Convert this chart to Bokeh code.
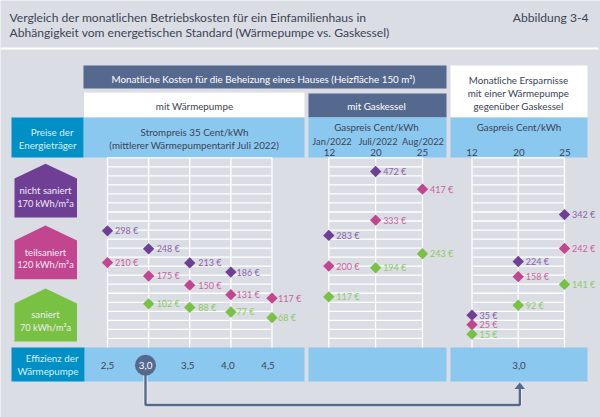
from bokeh.plotting import figure
from bokeh.models import Range1d
from bokeh.core.properties import value
from bokeh.embed import file_html
from bokeh.resources import INLINE

# ---- data ----
cop = [2.5, 3.0, 3.5, 4.0, 4.5]
efficiency_labels = ["2,5", "3,0", "3,5", "4,0", "4,5"]
gas_prices = ["12", "20", "25"]
gas_dates = ["Jan/2022", "Juli/2022", "Aug/2022"]

# labelled euro values and the height (on the euro scale) at which each mark is drawn
wp_cop_purple = [2.5, 3.0, 3.5, 4.0]
wp_val_purple = [298, 248, 213, 186]
wp_lvl_purple = [304, 253, 213, 187]
wp_cop_pink = [2.5, 3.0, 3.5, 4.0, 4.5]
wp_val_pink = [210, 175, 150, 131, 117]
wp_lvl_pink = [214, 176, 150, 123, 113]
wp_cop_green = [3.0, 3.5, 4.0, 4.5]
wp_val_green = [102, 88, 77, 68]
wp_lvl_green = [97, 87, 74, 58]

gas_col_purple = [0, 1]
gas_val_purple = [283, 472]
gas_lvl_purple = [291, 472]
gas_col_pink = [0, 1, 2]
gas_val_pink = [200, 333, 417]
gas_lvl_pink = [204, 334, 422]
gas_col_green = [0, 1, 2]
gas_val_green = [117, 194, 243]
gas_lvl_green = [117, 199, 239]

sav_col = [0, 1, 2]
sav_val_purple = [35, 224, 342]
sav_lvl_purple = [65, 217, 350]
sav_val_pink = [25, 158, 242]
sav_lvl_pink = [38, 174, 254]
sav_val_green = [15, 92, 141]
sav_lvl_green = [11, 93, 152]

# ---- styles ----
BG = "#dadde4"
NAVY = "#55698f"
LIGHT = "#8bc8f0"
TEAL = "#0090c5"
PURPLE = "#6f3f96"
PINK = "#c2458f"
GREEN = "#78c142"
INK = "#3c4454"
FONT = "Lato"

W, H = 600, 417
p = figure(width=W, height=H, x_range=Range1d(0, W), y_range=Range1d(H, 0),
           output_backend="svg", toolbar_location=None, min_border=0,
           background_fill_color=BG, border_fill_color=BG, outline_line_color=None)
p.axis.visible = False
p.grid.visible = False

# data scales laid over the layout frame
PX_PER_EUR = 0.353
ZERO_Y = 337.6
p.extra_y_ranges = {"eur": Range1d((ZERO_Y - H) / PX_PER_EUR, ZERO_Y / PX_PER_EUR)}


def lin_range(x0, step):
    return Range1d((0 - x0) / step, (W - x0) / step)


COP_STEP = 82.25
p.extra_x_ranges = {
    "cop": Range1d(2.5 - 107 / COP_STEP, 2.5 + (W - 107) / COP_STEP),
    "gas": lin_range(328.3, 46.85),
    "sav": lin_range(471.5, 46.25),
}


def box(x0, x1, y0, y1, color):
    p.quad(left=x0, right=x1, top=y0, bottom=y1, fill_color=color, line_color=None)


def txt(x, y, s, size=9.8, color=INK, align="center"):
    p.text([x], [y], text=[s], text_font=value(FONT), text_font_size=f"{size}px",
           text_color=color, text_align=align, text_baseline="middle")


# separator
box(0, 598, 47, 49, "#ffffff")
# header boxes
box(83, 446, 65, 88, NAVY)
box(83.5, 304, 92, 117, "#ffffff")
box(308, 446, 93, 117, NAVY)
box(450, 587, 65, 117, "#ffffff")
for a, b in [(83, 304), (308, 446), (450, 587)]:
    box(a, b, 117, 157, LIGHT)
    box(a + (1 if a == 83 else 0), b, 347, 381, LIGHT)
box(11, 83, 117, 157, TEAL)
box(11, 84, 347, 381, TEAL)

# grid
grid_color = "#ffffff"
rows = [157.3 + 9.03 * i for i in range(21)]
for a, b in [(107, 271.5), (328.3, 422), (471.5, 564)]:
    p.multi_line([[a, b] for _ in rows], [[r, r] for r in rows], line_color=grid_color, line_width=1.3)
for xs in ([107, 148.1, 189.2, 230.4, 271.5], [328.3, 375.1, 422], [471.5, 517.75, 564]):
    p.multi_line([[x, x] for x in xs], [[157, 347] for _ in xs], line_color=grid_color, line_width=1.3)

# houses
for top, shoulder, bottom, col in [(163.3, 178, 217, PURPLE), (225, 240, 278.7, PINK), (288, 303, 341, GREEN)]:
    p.patch([14, 45, 76.5, 76.5, 14], [shoulder, top, shoulder, bottom, bottom], fill_color=col, line_color=None)
for y, a, b in [(190, "nicht saniert", "170 kWh/m²a"), (251.5, "teilsaniert", "120 kWh/m²a"), (314, "saniert", "70 kWh/m²a")]:
    txt(45, y, a, size=9.6, color="#f2e9f4")
    txt(45, y + 12.7, b, size=9.2, color="#f2e9f4")

# titles and headers
txt(9, 17, "Vergleich der monatlichen Betriebskosten für ein Einfamilienhaus in", size=12.1, align="left")
txt(9, 32, "Abhängigkeit vom energetischen Standard (Wärmepumpe vs. Gaskessel)", size=12.1, align="left")
txt(588, 17, "Abbildung 3-4", size=12.1, align="right")
txt(263, 78, "Monatliche Kosten für die Beheizung eines Hauses (Heizfläche 150 m²)", color="#ffffff")
txt(194, 105, "mit Wärmepumpe")
txt(376, 105, "mit Gaskessel", color="#ffffff")
txt(518, 79, "Monatliche Ersparnisse")
txt(518, 92, "mit einer Wärmepumpe")
txt(518, 105, "gegenüber Gaskessel")
txt(73, 131, "Preise der", color="#d8eefa", align="right")
txt(76, 144, "Energieträger", color="#d8eefa", align="right")
txt(194, 131, "Strompreis 35 Cent/kWh")
txt(194, 144, "(mittlerer Wärmepumpentarif Juli 2022)")
txt(376, 126, "Gaspreis Cent/kWh")
txt(518.5, 126, "Gaspreis Cent/kWh")
for d, s, xd, xs in zip(gas_dates, gas_prices, [331.5, 377.5, 422.5], [329, 375.5, 422]):
    txt(xd, 141, d, size=9.3)
    txt(xs, 151.5, s)
for s, x in zip(gas_prices, [471.5, 518.5, 564.5]):
    txt(x, 151.5, s)
txt(78, 357, "Effizienz der", color="#d8eefa", align="right")
txt(78, 370.5, "Wärmepumpe", color="#d8eefa", align="right")

# connector arrow
p.line([145, 145, 519.3, 519.3], [364, 404.5, 404.5, 388], line_color="#eef0f4", line_width=4)
p.line([145, 145, 519.3, 519.3], [364, 404.5, 404.5, 388], line_color=NAVY, line_width=2.4)
p.patch([514, 519.3, 524.5], [388.5, 382, 388.5], fill_color=NAVY, line_color=None)
p.circle([145], [364.7], radius=10.5, fill_color=NAVY, line_color=None)

# efficiency labels, through the cop scale
p.text(cop, [364.5] * 5, text=efficiency_labels, x_range_name="cop", text_font=value(FONT), text_font_size="9.8px",
       text_color=[INK, "#ffffff", INK, INK, INK], text_align="center", text_baseline="middle",
       x_offset=[0, -3, -2, -3, -4])
txt(518.5, 364.5, "3,0")

# gap between mark and label, by heat-pump column
COP_GAP = {2.5: 7.5, 3.0: 8, 3.5: 8.5, 4.0: 5.7, 4.5: 6}


def series(xs, vals, lvls, rng, col, label_col):
    p.scatter(xs, lvls, marker="square", angle=0.7854, size=8, fill_color=col, line_color=None,
              x_range_name=rng, y_range_name="eur")
    gaps = [COP_GAP[x] for x in xs] if rng == "cop" else [7.5] * len(xs)
    p.text(xs, lvls, text=[f"{v} €" for v in vals], x_range_name=rng, y_range_name="eur",
           x_offset=gaps, text_font=value(FONT), text_font_size="9px", text_color=label_col,
           text_align="left", text_baseline="middle")


LPURPLE, LPINK, LGREEN = "#8a62ad", "#cd5fa0", "#8ccb5e"
series(wp_cop_purple, wp_val_purple, wp_lvl_purple, "cop", PURPLE, LPURPLE)
series(wp_cop_pink, wp_val_pink, wp_lvl_pink, "cop", PINK, LPINK)
series(wp_cop_green, wp_val_green, wp_lvl_green, "cop", GREEN, LGREEN)
series(gas_col_purple, gas_val_purple, gas_lvl_purple, "gas", PURPLE, LPURPLE)
series(gas_col_pink, gas_val_pink, gas_lvl_pink, "gas", PINK, LPINK)
series(gas_col_green, gas_val_green, gas_lvl_green, "gas", GREEN, LGREEN)
series(sav_col, sav_val_purple, sav_lvl_purple, "sav", PURPLE, LPURPLE)
series(sav_col, sav_val_pink, sav_lvl_pink, "sav", PINK, LPINK)
series(sav_col, sav_val_green, sav_lvl_green, "sav", GREEN, LGREEN)

open("out.html", "w").write(file_html(p, INLINE))
